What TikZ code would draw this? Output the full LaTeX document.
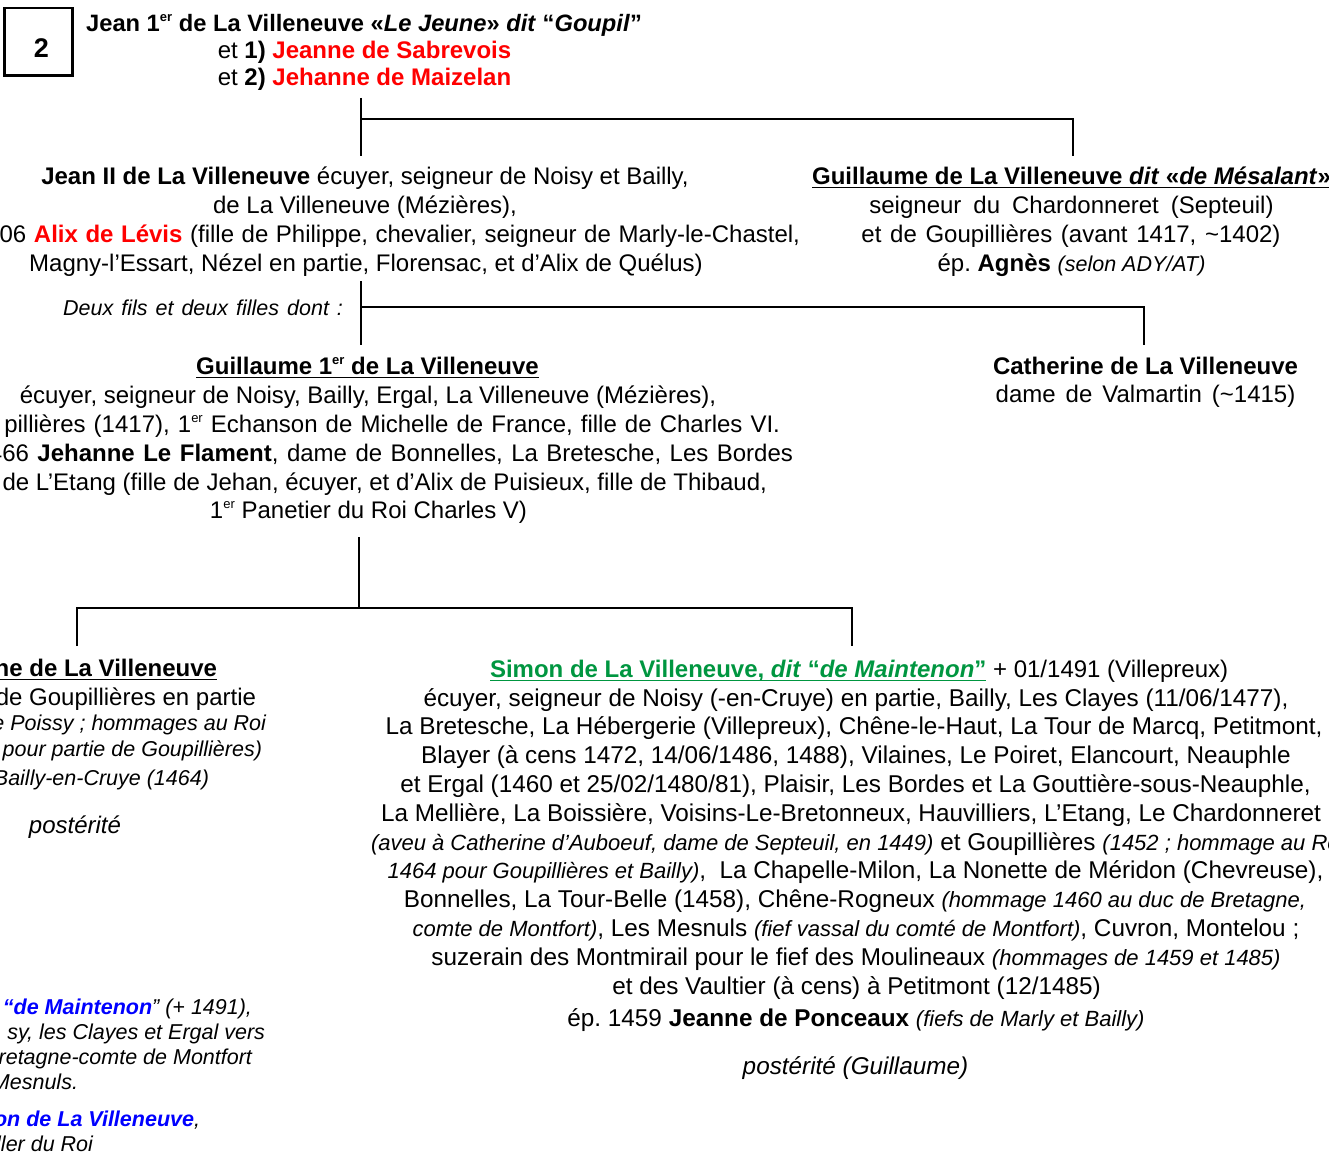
\documentclass[tikz,border=0pt]{standalone}
\usepackage{fontspec}
\setmainfont{Liberation Sans}
\frenchspacing
\definecolor{fgreen}{RGB}{0,150,64}
\definecolor{fred}{RGB}{255,0,0}
\definecolor{fblue}{RGB}{0,0,255}
\newcommand\nf{\fontsize{24}{29}\selectfont}
\newcommand\simfont{\fontsize{24.3}{29}\selectfont}
\newcommand\sm{\fontsize{22}{25}\selectfont\itshape}
\newcommand\smm{\fontsize{21.5}{25}\selectfont\itshape}
\newcommand\supe[1]{\raisebox{10pt}{\fontsize{13}{13}\selectfont #1}}
\newcommand\ws[1]{\spaceskip=#1\relax}
\tikzset{
  txt/.style={inner sep=0pt, outer sep=0pt, font=\nf, anchor=base},
  txte/.style={txt, anchor=base east},
  txtw/.style={txt, anchor=base west},
  stxt/.style={txt, font=\simfont},
  ulline/.style={line width=1.8pt},
  conn/.style={line width=2.2pt}
}
\newcommand\ulnode[2]{\draw[ulline,#1] ([yshift=-3.5pt]#2.base west) -- ([yshift=-3.5pt]#2.base east);}
\begin{document}
\begin{tikzpicture}[x=1pt,y=-1pt]
\useasboundingbox (0,0) rectangle (1329,1153);
\clip (0,0) rectangle (1329,1153);
\fill[white] (0,0) rectangle (1329,1153);

% number box
\node[draw, line width=2.7pt, minimum width=68pt, minimum height=67.6pt, inner sep=0pt] (numbox) at (38.7,41.9) {};
\node[inner sep=0pt, font=\fontsize{27}{27}\selectfont\bfseries] (num) at (41.5,48) {2};

% title
\node[txt, font=\fontsize{23.7}{29}\selectfont] (title1) at (364,32) {\textbf{Jean 1\supe{er} de La Villeneuve «\textit{Le Jeune}» \textit{dit} “\textit{Goupil}”}};
\node[txt] (title2) at (364.5,59) {et \textbf{1)} \textcolor{fred}{\textbf{Jeanne de Sabrevois}}};
\node[txt] (title3) at (364.5,86) {et \textbf{2)} \textcolor{fred}{\textbf{Jehanne de Maizelan}}};

% connectors level 1
\coordinate (c1top) at (361,98);
\coordinate (c1j) at (361,119);
\coordinate (c1bot) at (361,156);
\coordinate (c1r) at (1073,119);
\coordinate (c1rb) at (1073,156);
\draw[conn] (c1top) -- (c1bot);
\draw[conn] (c1j) -- (c1r) -- (c1rb);

% Jean II
\node[txt] (jean-a) at (365,184) {\textbf{Jean II de La Villeneuve} écuyer, seigneur de Noisy et Bailly,};
\node[txt] (jean-b) at (365,213) {de La Villeneuve (Mézières),};
\node[txte] (jean-c) at (800,242) {\ws{7.6pt}06 \textcolor{fred}{\textbf{Alix de Lévis}} (fille de Philippe, chevalier, seigneur de Marly-le-Chastel,};
\node[txt] (jean-d) at (366,271) {Magny-l’Essart, Nézel en partie, Florensac, et d’Alix de Quélus)};

% Guillaume de Mesalant
\node[txt] (gm-a) at (1071.5,184) {\textbf{Guillaume de La Villeneuve \textit{dit} «\textit{de Mésalant}»}};
\ulnode{black}{gm-a}
\node[txt] (gm-b) at (1071.5,213) {\ws{12pt}seigneur du Chardonneret (Septeuil)};
\node[txt] (gm-c) at (1071,242) {\ws{8.7pt}et de Goupillières (avant 1417, \textasciitilde1402)};
\node[txt] (gm-d) at (1071.5,271) {ép. \textbf{Agnès} {\smm (selon ADY/AT)}};

% connectors level 2
\coordinate (c2top) at (361,281);
\coordinate (c2j) at (361,307);
\coordinate (c2bot) at (361,345);
\coordinate (c2r) at (1144,307);
\coordinate (c2rb) at (1144,345);
\draw[conn] (c2top) -- (c2bot);
\draw[conn] (c2j) -- (c2r) -- (c2rb);
\node[txte] (deux) at (343,315.5) {\smm\ws{8pt}Deux fils et deux filles dont :};

% Guillaume 1er
\node[txt] (g1-a) at (367.5,374) {\textbf{Guillaume 1\supe{er} de La Villeneuve}};
\ulnode{black}{g1-a}
\node[txt] (g1-b) at (368,403) {écuyer, seigneur de Noisy, Bailly, Ergal, La Villeneuve (Mézières),};
\node[txte] (g1-c) at (780,432) {\ws{8.1pt}pillières (1417), 1\supe{er} Echanson de Michelle de France, fille de Charles VI.};
\node[txte] (g1-d) at (793,461) {\ws{8.5pt}466 \textbf{Jehanne Le Flament}, dame de Bonnelles, La Bretesche, Les Bordes};
\node[txte] (g1-e) at (767,490) {de L’Etang (fille de Jehan, écuyer, et d’Alix de Puisieux, fille de Thibaud,};
\node[txt] (g1-f) at (368.5,518) {1\supe{er} Panetier du Roi Charles V)};

% Catherine
\node[txt] (cat-a) at (1145.5,374) {\textbf{Catherine de La Villeneuve}};
\node[txt] (cat-b) at (1145.5,402) {\ws{10pt}dame de Valmartin (\textasciitilde1415)};

% connectors level 3
\coordinate (c3top) at (359,537);
\coordinate (c3j) at (359,608);
\coordinate (c3l) at (77,608);
\coordinate (c3lb) at (77,646);
\coordinate (c3r) at (852,608);
\coordinate (c3rb) at (852,646);
\draw[conn] (c3top) -- (c3j);
\draw[conn] (c3lb) -- (c3l) -- (c3r) -- (c3rb);

% left column
\node[txte] (lc-a) at (217,676) {\textbf{ne de La Villeneuve}};
\ulnode{black}{lc-a}
\node[txte] (lc-b) at (256,705) {de Goupillières en partie};
\node[txte] (lc-c) at (266,730) {\smm e Poissy ; hommages au Roi};
\node[txte] (lc-d) at (262,756) {\smm pour partie de Goupillières)};
\node[txte] (lc-e) at (209,785) {\smm Bailly-en-Cruye (1464)};
\node[txt] (lc-f) at (75,833) {\itshape postérité};
\node[txte] (lc-g) at (252,1014) {\smm\textcolor{fblue}{\textbf{“de Maintenon}}” (+ 1491),};
\node[txte] (lc-h) at (265,1039) {\smm sy, les Clayes et Ergal vers};
\node[txte] (lc-i) at (252,1064) {\smm retagne-comte de Montfort};
\node[txte] (lc-j) at (78,1089) {\smm Mesnuls.};
\node[txte] (lc-k) at (200,1126) {\smm\textcolor{fblue}{\textbf{non de La Villeneuve}},};
\node[txte] (lc-l) at (93,1151) {\smm ller du Roi};

% Simon
\node[txtw] (s-1a) at (490,677) {\textcolor{fgreen}{\textbf{Simon de La Villeneuve, \textit{dit} “\textit{de Maintenon}”}}};
\ulnode{fgreen}{s-1a}
\node[txtw] (s-1b) at (s-1a.base east) {\ + 01/1491 (Villepreux)};
\node[stxt] (s-2) at (856,706) {écuyer, seigneur de Noisy (-en-Cruye) en partie, Bailly, Les Clayes (11/06/1477),};
\node[stxt] (s-3) at (854,734) {La Bretesche, La Hébergerie (Villepreux), Chêne-le-Haut, La Tour de Marcq, Petitmont,};
\node[stxt] (s-4) at (856,763) {Blayer (à cens 1472, 14/06/1486, 1488), Vilaines, Le Poiret, Elancourt, Neauphle};
\node[stxt] (s-5) at (855.5,792) {et Ergal (1460 et 25/02/1480/81), Plaisir, Les Bordes et La Gouttière-sous-Neauphle,};
\node[stxt,anchor=base west] (s-6) at (381,821) {La Mellière, La Boissière, Voisins-Le-Bretonneux, Hauvilliers, L’Etang, Le Chardonneret};
\node[stxt,anchor=base west] (s-7) at (371,850) {{\sm (aveu à Catherine d’Auboeuf, dame de Septeuil, en 1449)} et Goupillières {\sm (1452 ; hommage au Ro}};
\node[stxt] (s-8) at (855.5,878) {{\sm 1464 pour Goupillières et Bailly)},\ \ La Chapelle-Milon, La Nonette de Méridon (Chevreuse),};
\node[stxt] (s-9) at (855,907) {Bonnelles, La Tour-Belle (1458), Chêne-Rogneux {\sm (hommage 1460 au duc de Bretagne,}};
\node[stxt] (s-10) at (856,936) {{\sm comte de Montfort)}, Les Mesnuls {\sm (fief vassal du comté de Montfort)}, Cuvron, Montelou ;};
\node[stxt] (s-11) at (856,965) {suzerain des Montmirail pour le fief des Moulineaux {\sm (hommages de 1459 et 1485)}};
\node[stxt] (s-12) at (856.5,994) {et des Vaultier (à cens) à Petitmont (12/1485)};
\node[stxt] (s-13) at (856,1026) {ép. 1459 \textbf{Jeanne de Ponceaux} {\sm (fiefs de Marly et Bailly)}};
\node[stxt] (s-14) at (855.5,1074) {\itshape postérité (Guillaume)};
\end{tikzpicture}
\end{document}
